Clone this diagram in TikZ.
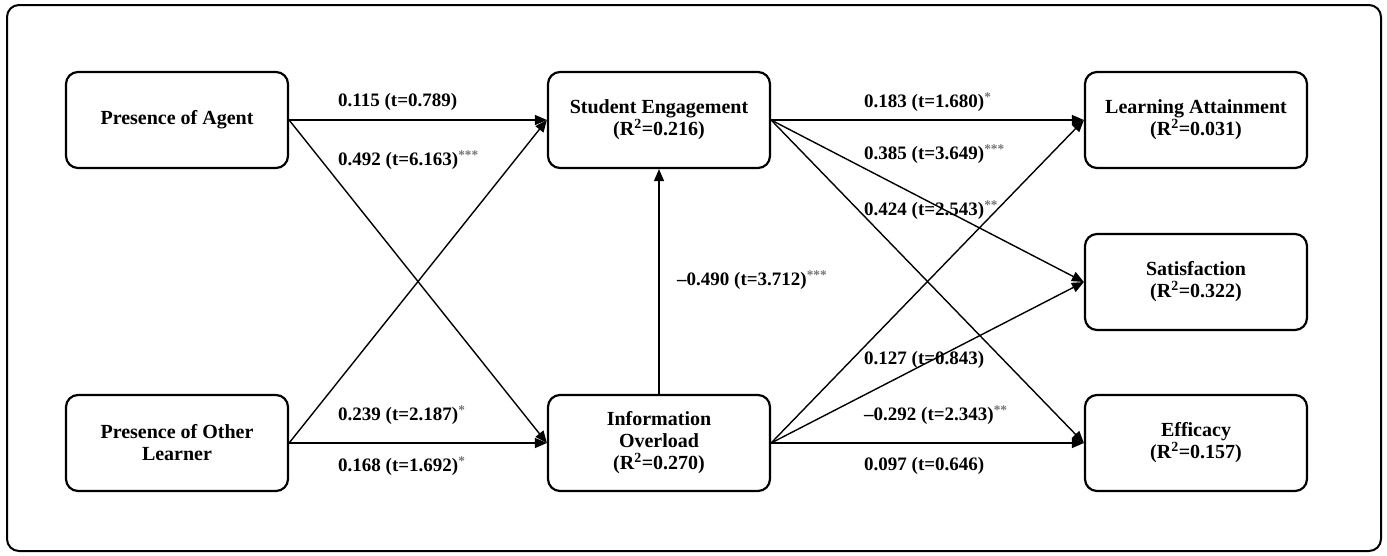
\documentclass[tikz,border=0pt]{standalone}
\usepackage{fontspec}
\setmainfont{Liberation Serif}
\usetikzlibrary{arrows.meta}
\newcommand{\sig}[1]{\textsuperscript{\textcolor{black!55}{#1}}}
\begin{document}
\begin{tikzpicture}[x=1pt,y=-1pt,
  box/.style={draw, line width=2.2pt, rounded corners=12pt, minimum width=222pt, minimum height=96pt,
    align=center, font=\bfseries\fontsize{20}{22}\selectfont, inner sep=0pt},
  conn/.style={line width=1.4pt, -{Triangle[length=12pt,width=10pt]}},
  lab/.style={font=\bfseries\fontsize{19}{20}\selectfont, anchor=west, inner sep=0pt}]
\useasboundingbox (0,0) rectangle (1387,555);
\draw[line width=2pt, rounded corners=12pt] (7,5) rectangle (1381,551);
% nodes
\node[box] (pa)  at (177,120) {Presence of Agent};
\node[box] (pol) at (177,443) {Presence of Other\\Learner};
\node[box] (se)  at (659,120) {Student Engagement\\(R\textsuperscript{2}=0.216)};
\node[box] (io)  at (659,443) {Information\\Overload\\(R\textsuperscript{2}=0.270)};
\node[box] (la)  at (1196,120) {Learning Attainment\\(R\textsuperscript{2}=0.031)};
\node[box] (sat) at (1196,282) {Satisfaction\\(R\textsuperscript{2}=0.322)};
\node[box] (eff) at (1196,443) {Efficacy\\(R\textsuperscript{2}=0.157)};
% connectors
\draw[conn] (pa.east) -- (se.west);
\draw[conn] (pa.east) -- (io.west);
\draw[conn] (pol.east) -- (se.west);
\draw[conn] (pol.east) -- (io.west);
\draw[conn] (io.north) -- (se.south);
\draw[conn] (se.east) -- (la.west);
\draw[conn] (se.east) -- (sat.west);
\draw[conn] (se.east) -- (eff.west);
\draw[conn] (io.east) -- (la.west);
\draw[conn] (io.east) -- (sat.west);
\draw[conn] (io.east) -- (eff.west);
% labels
\node[lab] (l1) at (338,102) {0.115 (t=0.789)};
\node[lab] (l2) at (338,160) {0.492 (t=6.163)\sig{***}};
\node[lab] (l3) at (338,415) {0.239 (t=2.187)\sig{*}};
\node[lab] (l4) at (338,466) {0.168 (t=1.692)\sig{*}};
\node[lab] (l5) at (677,280) {–0.490 (t=3.712)\sig{***}};
\node[lab] (l6) at (864,102) {0.183 (t=1.680)\sig{*}};
\node[lab] (l7) at (864,154) {0.385 (t=3.649)\sig{***}};
\node[lab] (l8) at (864,210) {0.424 (t=2.543)\sig{**}};
\node[lab] (l9) at (864,360) {0.127 (t=0.843)};
\node[lab] (l10) at (864,415) {–0.292 (t=2.343)\sig{**}};
\node[lab] (l11) at (864,466) {0.097 (t=0.646)};
\end{tikzpicture}
\end{document}
